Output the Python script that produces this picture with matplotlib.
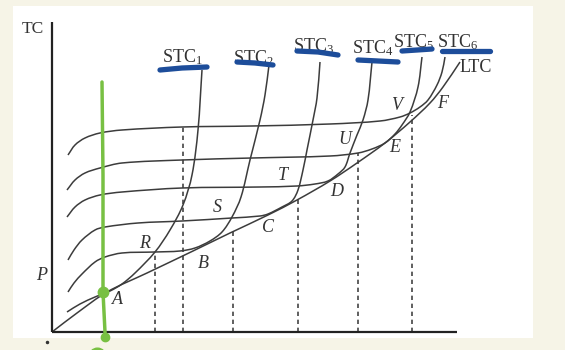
import matplotlib
matplotlib.use("Agg")
import matplotlib.pyplot as plt
from matplotlib.path import Path
from matplotlib.patches import PathPatch, Rectangle

plt.rcParams['font.family'] = ['Liberation Serif', 'DejaVu Serif']
plt.rcParams['mathtext.fontset'] = 'custom'
plt.rcParams['mathtext.rm'] = 'Liberation Serif'
plt.rcParams['mathtext.it'] = 'Liberation Serif:italic'

# output Q (x) and total cost (y)
ltc_q = [0, 25, 55, 95, 141, 178, 216, 245, 278, 305, 333, 358, 378, 391, 408]
ltc_c = [0, 19, 40, 59, 81, 99, 117, 132, 151, 169, 189, 210, 229, 245, 270]

stc1_q = [15, 28, 43, 58, 70, 83, 103, 118, 131, 140, 146, 150]
stc1_c = [20, 28, 35, 41, 48, 59, 80, 102, 127, 157, 202, 262]
stc2_q = [16, 22, 30, 43, 53, 70, 103, 128, 143, 158, 170, 180, 189, 198, 208, 213, 217]
stc2_c = [40, 49, 58, 70, 75, 79, 80, 81, 84, 91, 100, 115, 135, 172, 212, 237, 267]
stc3_q = [16, 22, 30, 43, 53, 86, 130, 180, 208, 216, 230, 240, 246, 251, 255, 261, 265, 268]
stc3_c = [72, 82, 92, 102, 105, 109, 111, 114, 116, 118, 125, 131, 142, 162, 182, 212, 234, 270]
stc4_q = [15, 23, 33, 48, 70, 130, 208, 245, 263, 276, 286, 293, 298, 305, 311, 316, 320]
stc4_c = [115, 125, 132, 137, 140, 144, 145, 146, 148, 151, 158, 165, 179, 197, 212, 232, 270]
stc5_q = [15, 23, 33, 48, 70, 130, 200, 278, 306, 320, 333, 343, 350, 358, 366, 370]
stc5_c = [142, 152, 159, 164, 169, 172, 174, 176, 179, 183, 189, 198, 207, 220, 245, 275]
stc6_q = [16, 23, 33, 48, 70, 130, 200, 278, 328, 348, 358, 368, 376, 385, 390, 393]
stc6_c = [177, 187, 194, 199, 202, 205, 206, 208, 211, 215, 219, 225, 232, 247, 260, 275]

stc_q = [stc1_q, stc2_q, stc3_q, stc4_q, stc5_q, stc6_q]
stc_c = [stc1_c, stc2_c, stc3_c, stc4_c, stc5_c, stc6_c]
stc_names = ['1', '2', '3', '4', '5', '6']

# dashed drop lines: output level and the cost where they start
drop_q = [103, 131, 181, 246, 306, 360]
drop_c = [80, 205, 100, 133, 179, 217]

point_names = ['A', 'R', 'B', 'S', 'C', 'T', 'D', 'U', 'E', 'V', 'F']


def smooth_path(xs, ys):
    # chord-length hermite spline through the read points, as bezier segments
    pts = list(zip(xs, ys))
    n = len(pts)
    d = [((pts[i + 1][0] - pts[i][0]) ** 2 + (pts[i + 1][1] - pts[i][1]) ** 2) ** 0.5
         for i in range(n - 1)]
    tang = []
    for i in range(n):
        if i == 0:
            tang.append(((pts[1][0] - pts[0][0]) / d[0], (pts[1][1] - pts[0][1]) / d[0]))
        elif i == n - 1:
            tang.append(((pts[i][0] - pts[i - 1][0]) / d[i - 1], (pts[i][1] - pts[i - 1][1]) / d[i - 1]))
        else:
            s = d[i - 1] + d[i]
            tang.append(((pts[i + 1][0] - pts[i - 1][0]) / s, (pts[i + 1][1] - pts[i - 1][1]) / s))
    verts = [pts[0]]
    codes = [Path.MOVETO]
    for i in range(n - 1):
        h = d[i] / 3
        c1 = (pts[i][0] + tang[i][0] * h, pts[i][1] + tang[i][1] * h)
        c2 = (pts[i + 1][0] - tang[i + 1][0] * h, pts[i + 1][1] - tang[i + 1][1] * h)
        verts += [c1, c2, pts[i + 1]]
        codes += [Path.CURVE4] * 3
    return Path(verts, codes)


fig = plt.figure(figsize=(5.65, 3.5), dpi=100)
fig.patch.set_facecolor('#f6f4e7')
ax = fig.add_axes([0, 0, 1, 1])
ax.set_xlim(-52, 513)
ax.set_ylim(-18, 332)
ax.axis('off')

# white page
ax.add_patch(Rectangle((-39, -6), 520, 332, facecolor='white', edgecolor='none', zorder=0))

# axes
ax.plot([0, 0], [0, 310], color='#222222', lw=1.6, solid_capstyle='butt', zorder=3)
ax.plot([0, 405], [0, 0], color='#222222', lw=1.6, solid_capstyle='butt', zorder=3)
ax.plot([-5], [-10], marker='o', ms=1.5, color='#333333')

curve_col = '#3c3c3c'
ax.add_patch(PathPatch(smooth_path(ltc_q, ltc_c), fill=False, edgecolor=curve_col, lw=1.1, zorder=2))
for qs, cs in zip(stc_q, stc_c):
    ax.add_patch(PathPatch(smooth_path(qs, cs), fill=False, edgecolor=curve_col, lw=1.1, zorder=2))

for q, c in zip(drop_q, drop_c):
    ax.plot([q, q], [0, c], color='#444444', lw=1.2, linestyle=(0, (2.6, 2.2)), zorder=1)

# text labels
ax.text(-30, 299, 'TC', fontsize=12.5, color='#333333')
ax.text(-10, 57, 'P', fontsize=13, style='italic', color='#333333', ha='center', va='center')
stc_left = [110, 181, 241, 300, 341, 385]
stc_base = [270, 269, 281, 279, 285, 285]
for name, x, y in zip(stc_names, stc_left, stc_base):
    ax.text(x, y, r'$\mathrm{STC}_{%s}$' % name, fontsize=13, color='#333333', va='baseline')
ax.text(408, 260, 'LTC', fontsize=13, color='#333333', va='baseline')

label_q = [65, 93, 151, 165, 216, 231, 285, 293, 343, 345, 391]
label_c = [32, 89, 69, 125, 105, 157, 140, 192, 185, 227, 228]
for name, x, y in zip(point_names, label_q, label_c):
    ax.text(x, y, name, fontsize=13, style='italic', color='#333333', ha='center', va='center')

# blue pen strokes under the curve labels
blue = '#1d4d9a'
strokes = [([108, 130, 155], [262, 264, 265]),
           ([185, 203, 221], [270, 269, 267]),
           ([245, 266, 286], [281, 280, 277]),
           ([306, 326, 346], [272, 271, 270]),
           ([350, 365, 380], [281, 282, 283]),
           ([390, 414, 438], [281, 281, 281])]
for xs, ys in strokes:
    ax.plot(xs, ys, color=blue, lw=3.8, solid_capstyle='round', zorder=5)

# green pen line with dots
green = '#78c043'
ax.plot([50, 51, 51, 53, 53], [250, 157, 40, 0, -8], color=green, lw=2.5, solid_capstyle='round', zorder=6)
ax.plot([51], [40], marker='o', ms=7.5, color=green, zorder=6)
ax.plot([53], [-5], marker='o', ms=6, color=green, zorder=6)
ax.plot([45], [-24], marker='o', ms=12, color=green, zorder=6, clip_on=False)

fig.savefig('out.png', dpi=100, facecolor=fig.get_facecolor())
